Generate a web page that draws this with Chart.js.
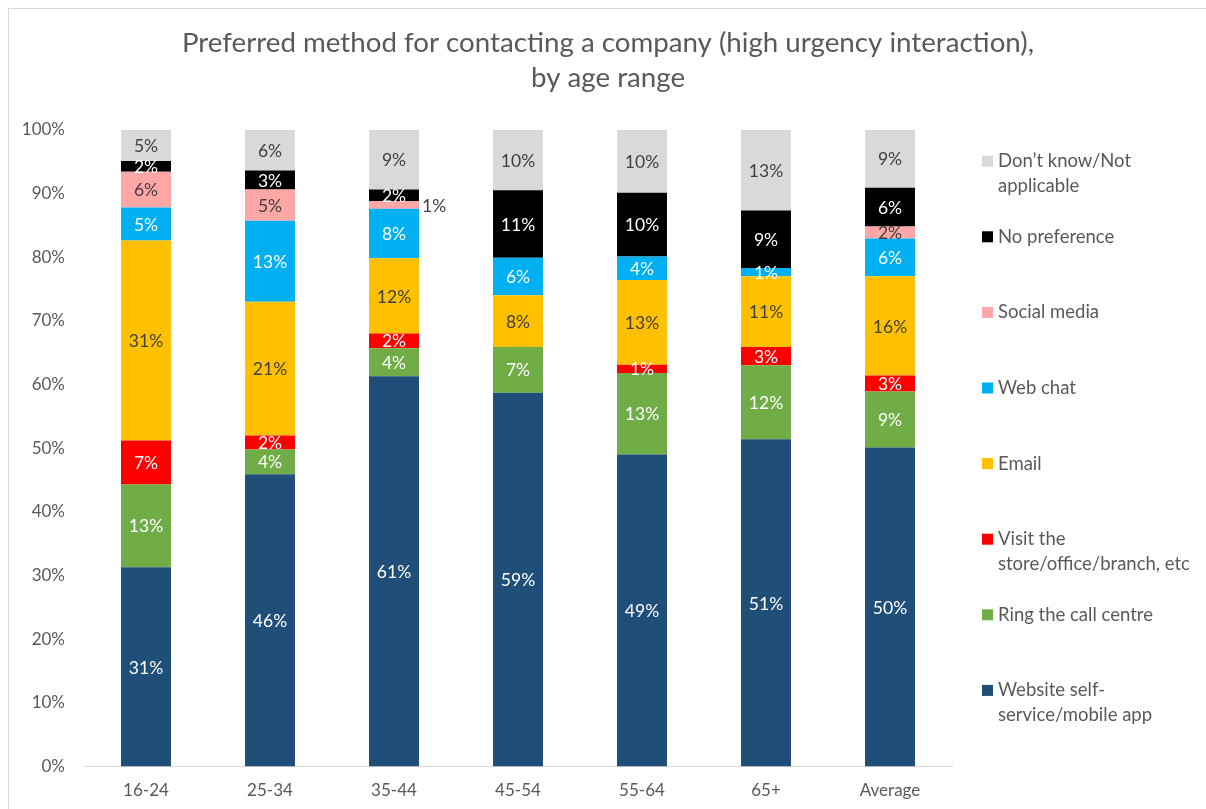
<!DOCTYPE html>
<html>
<head>
<meta charset="utf-8">
<script src="https://cdn.jsdelivr.net/npm/chart.js@4.4.1/dist/chart.umd.min.js"></script>
<style>
  html, body { margin: 0; padding: 0; background: #fff; overflow: hidden; }
  #frame { position: absolute; left: 8px; top: 8px; width: 1230px; height: 840px; border: 1px solid #d9d9d9; box-sizing: border-box; }
  #wrap { position: absolute; left: 0; top: 0; width: 1198px; height: 817px; }
</style>
</head>
<body>
<div id="frame"><div id="wrap"><canvas id="c"></canvas></div></div>
<script>
const categories = ['16-24', '25-34', '35-44', '45-54', '55-64', '65+', 'Average'];
const yTicks = [0, 10, 20, 30, 40, 50, 60, 70, 80, 90, 100];
const titleLines = ['Preferred method for contacting a company (high urgency interaction),', 'by age range'];

const website      = [31.3, 45.9, 61.3, 58.7, 49.0, 51.4, 50.1];
const callCentre   = [13.0,  3.9,  4.4,  7.2, 12.8, 11.6,  8.8];
const visitStore   = [ 6.9,  2.2,  2.3,  0.0,  1.3,  2.9,  2.5];
const email        = [31.4, 21.0, 11.8,  8.1, 13.3, 11.1, 15.6];
const webChat      = [ 5.2, 12.7,  7.8,  5.9,  3.7,  1.3,  5.9];
const socialMedia  = [ 5.6,  4.9,  1.2,  0.0,  0.0,  0.0,  1.9];
const noPreference = [ 1.7,  3.0,  1.8, 10.6, 10.0,  9.0,  6.1];
const dontKnow     = [ 4.9,  6.4,  9.4,  9.5,  9.9, 12.7,  9.1];

const FONT = "Lato, 'Noto Sans', sans-serif";
const DARK = '#404040';
const GREY = '#595959';

function ds(label, legendLines, data, color, textColor) {
  return {
    label: label, legendLines: legendLines, data: data,
    backgroundColor: color, textColor: textColor,
    barPercentage: 0.403, categoryPercentage: 1.0, borderWidth: 0
  };
}

const datasets = [
  ds('Website self-service/mobile app', ['Website self-', 'service/mobile app'], website, '#1F4E79', '#ffffff'),
  ds('Ring the call centre', ['Ring the call centre'], callCentre, '#70AD47', '#ffffff'),
  ds('Visit the store/office/branch, etc', ['Visit the', 'store/office/branch, etc'], visitStore, '#FF0000', '#ffffff'),
  ds('Email', ['Email'], email, '#FFC000', DARK),
  ds('Web chat', ['Web chat'], webChat, '#00B0F0', '#ffffff'),
  ds('Social media', ['Social media'], socialMedia, '#FFA7A7', DARK),
  ds('No preference', ['No preference'], noPreference, '#000000', '#ffffff'),
  ds('Don\u2019t know/Not applicable', ['Don\u2019t know/Not', 'applicable'], dontKnow, '#D9D9D9', DARK)
];

const titlePlugin = {
  id: 'centeredTitle',
  afterDraw(chart) {
    const ctx = chart.ctx;
    ctx.save();
    ctx.font = '27.7px ' + FONT;
    ctx.fillStyle = GREY;
    ctx.textAlign = 'center';
    ctx.textBaseline = 'middle';
    const cx = chart.width / 2;
    titleLines.forEach((line, j) => ctx.fillText(line, cx, 34 + j * 35));
    ctx.restore();
  }
};

const labelPlugin = {
  id: 'segLabels',
  afterDatasetsDraw(chart) {
    const ctx = chart.ctx;
    ctx.save();
    ctx.font = '17.5px ' + FONT;
    ctx.textBaseline = 'middle';
    chart.data.datasets.forEach((d, di) => {
      const meta = chart.getDatasetMeta(di);
      meta.data.forEach((el, i) => {
        const v = d.data[i];
        if (v < 0.5) return;
        const txt = Math.round(v) + '%';
        const cy = (el.y + el.base) / 2;
        if (d.label === 'Social media' && v < 1.5) {
          ctx.fillStyle = DARK;
          ctx.textAlign = 'left';
          ctx.fillText(txt, el.x + el.width / 2 + 3, cy + 2);
        } else {
          ctx.fillStyle = d.textColor;
          ctx.textAlign = 'center';
          ctx.fillText(txt, el.x, cy + 1);
        }
      });
    });
    ctx.restore();
  }
};

const legendPlugin = {
  id: 'sideLegend',
  afterDraw(chart) {
    const ctx = chart.ctx;
    const area = chart.chartArea;
    const x0 = area.right + 30;
    const y0 = area.top + 31.5;
    const step = 75.6;
    ctx.save();
    ctx.font = '18.5px ' + FONT;
    ctx.textBaseline = 'middle';
    ctx.textAlign = 'left';
    const items = chart.data.datasets.slice().reverse();
    items.forEach((d, k) => {
      const y = y0 + k * step;
      ctx.fillStyle = d.backgroundColor;
      ctx.fillRect(x0, y - 5.5, 11, 11);
      ctx.fillStyle = GREY;
      d.legendLines.forEach((line, j) => {
        ctx.fillText(line, x0 + 16, y + j * 25);
      });
    });
    ctx.restore();
  }
};

new Chart(document.getElementById('c'), {
  type: 'bar',
  data: { labels: categories, datasets: datasets },
  options: {
    responsive: true,
    maintainAspectRatio: false,
    animation: false,
    layout: { padding: { left: 0, right: 255, top: 120.7, bottom: 11 } },
    plugins: {
      legend: { display: false },
      tooltip: { enabled: false },
      title: { display: false }
    },
    scales: {
      x: {
        stacked: true,
        grid: { display: false, drawTicks: false },
        border: { display: true, color: '#d9d9d9', width: 1 },
        ticks: { color: GREY, font: { family: FONT, size: 17 }, padding: 14 }
      },
      y: {
        stacked: true,
        min: 0, max: 100,
        afterBuildTicks(scale) { scale.ticks = yTicks.map(v => ({ value: v })); },
        afterFit(scale) { scale.width = 75; },
        grid: { display: false, drawTicks: false },
        border: { display: false },
        ticks: { color: GREY, font: { family: FONT, size: 17 }, padding: 19, callback: v => v + '%' }
      }
    }
  },
  plugins: [labelPlugin, legendPlugin, titlePlugin]
});
</script>
</body>
</html>
